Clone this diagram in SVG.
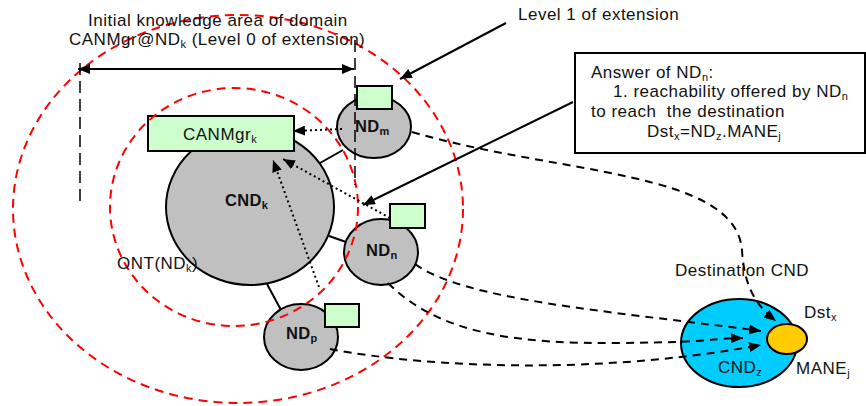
<svg xmlns="http://www.w3.org/2000/svg" width="866" height="406" viewBox="0 0 866 406">
<style>
text{font-family:"Liberation Sans",Arial,sans-serif;font-size:17px;fill:#111;letter-spacing:0.5px}
.b{font-weight:bold;font-size:16.5px;letter-spacing:0.3px}
.s{font-size:11px}
.nd{fill:#c0c0c0;stroke:#000;stroke-width:2}
.gb{fill:#ccffcc;stroke:#000;stroke-width:2}
.red{fill:none;stroke:#ff0000;stroke-width:2;stroke-dasharray:9 6}
.dash{fill:none;stroke:#000;stroke-width:2;stroke-dasharray:8 6}
.vd{fill:none;stroke:#000;stroke-width:1.5;stroke-dasharray:12 6}
.dot{fill:none;stroke:#000;stroke-width:2;stroke-dasharray:2 3}
.sol{fill:none;stroke:#000;stroke-width:2}
</style>
<defs>
<marker id="ah" viewBox="0 0 12 10" refX="12" refY="5" markerWidth="12" markerHeight="10" markerUnits="userSpaceOnUse" orient="auto-start-reverse">
<path d="M0,0 L12,5 L0,10 Z" fill="#000"/>
</marker>
</defs>
<rect width="866" height="406" fill="#fff"/>

<g id="CNDk">
<ellipse class="nd" cx="250" cy="207" rx="84" ry="78"/>
<text class="b" x="225" y="206">CND<tspan class="s" dy="3">k</tspan></text>
</g>
<g id="CANMgrk">
<rect class="gb" x="148" y="116" width="146" height="35"/>
<text x="183" y="140">CANMgr<tspan class="s" dy="3">k</tspan></text>
</g>
<g id="NDm">
<ellipse class="nd" cx="374" cy="127" rx="37" ry="31"/>
<rect class="gb" x="357" y="86" width="35" height="23"/>
<text class="b" x="355" y="132">ND<tspan class="s" dy="3">m</tspan></text>
</g>
<g id="NDn">
<ellipse class="nd" cx="381" cy="252" rx="37" ry="33"/>
<rect class="gb" x="390" y="204" width="35" height="24"/>
<text class="b" x="366" y="256">ND<tspan class="s" dy="3">n</tspan></text>
</g>
<g id="NDp">
<ellipse class="nd" cx="301" cy="337" rx="37" ry="33"/>
<rect class="gb" x="325" y="304" width="34" height="23"/>
<text class="b" x="286" y="339">ND<tspan class="s" dy="3">p</tspan></text>
</g>
<g id="CNDz">
<ellipse cx="739" cy="343" rx="58" ry="44" fill="#00ccff" stroke="#000" stroke-width="2"/>
<text x="718" y="373">CND<tspan class="s" dy="3">z</tspan></text>
</g>
<g id="MANEj">
<ellipse cx="787" cy="339" rx="20" ry="15" fill="#ffcc00" stroke="#000" stroke-width="2"/>
<text x="804" y="318">Dst<tspan class="s" dy="3">x</tspan></text>
<text x="796" y="374">MANE<tspan class="s" dy="3">j</tspan></text>
</g>

<g id="areas">
<ellipse class="red" cx="238" cy="209" rx="225" ry="194"/>
<ellipse class="red" cx="234" cy="207" rx="124" ry="119"/>
<text x="117" y="269">ONT(ND<tspan class="s" dy="3">k</tspan><tspan dy="-3">)</tspan></text>
<text x="675" y="276">Destination CND</text>
</g>

<g id="answer">
<rect x="575" y="53" width="290" height="100" fill="#fff" stroke="#000" stroke-width="2"/>
<text x="591" y="78">Answer of ND<tspan class="s" dy="3">n</tspan><tspan dy="-3">:</tspan></text>
<text x="613" y="97">1. reachability offered by ND<tspan class="s" dy="3">n</tspan></text>
<text x="591" y="117">to reach&#160; the destination</text>
<text x="647" y="137">Dst<tspan class="s" dy="3">x</tspan><tspan dy="-3">=ND</tspan><tspan class="s" dy="3">z</tspan><tspan dy="-3">.MANE</tspan><tspan class="s" dy="3">j</tspan></text>
</g>

<g id="labels">
<text x="88" y="26">Initial knowledge area of domain</text>
<text x="69" y="45">CANMgr@ND<tspan class="s" dy="3">k</tspan><tspan dy="-3"> (Level 0 of extension)</tspan></text>
<text x="518" y="20">Level 1 of extension</text>
</g>

<g id="connectors">
<line class="sol" x1="320" y1="163" x2="343" y2="150"/>
<line class="sol" x1="329" y1="236" x2="346" y2="242"/>
<line class="sol" x1="267" y1="284" x2="281" y2="310"/>
<line class="vd" x1="80" y1="63" x2="80" y2="203"/>
<line class="vd" x1="355" y1="40" x2="355" y2="185"/>
<line class="sol" x1="78" y1="69" x2="354" y2="69" marker-start="url(#ah)" marker-end="url(#ah)"/>
<line class="sol" x1="506" y1="23" x2="400" y2="79" marker-end="url(#ah)"/>
<line class="sol" x1="573" y1="102" x2="363" y2="205" marker-end="url(#ah)"/>
<line class="dot" x1="342" y1="129" x2="293" y2="131" marker-end="url(#ah)"/>
<line class="dot" x1="390" y1="218" x2="283" y2="159" marker-end="url(#ah)"/>
<line class="dot" x1="319" y1="287" x2="273" y2="160" marker-end="url(#ah)"/>
<path class="dash" d="M412,132 C560,175 735,170 742,250 C744,285 755,305 776,321" marker-end="url(#ah)"/>
<path class="dash" d="M415,264 C465,300 600,310 761,331" marker-end="url(#ah)"/>
<path class="dash" d="M388,283 C440,335 520,344 620,343 S700,339 743,338" marker-end="url(#ah)"/>
<path class="dash" d="M330,349 C430,368 600,375 761,345" marker-end="url(#ah)"/>
</g>
</svg>
